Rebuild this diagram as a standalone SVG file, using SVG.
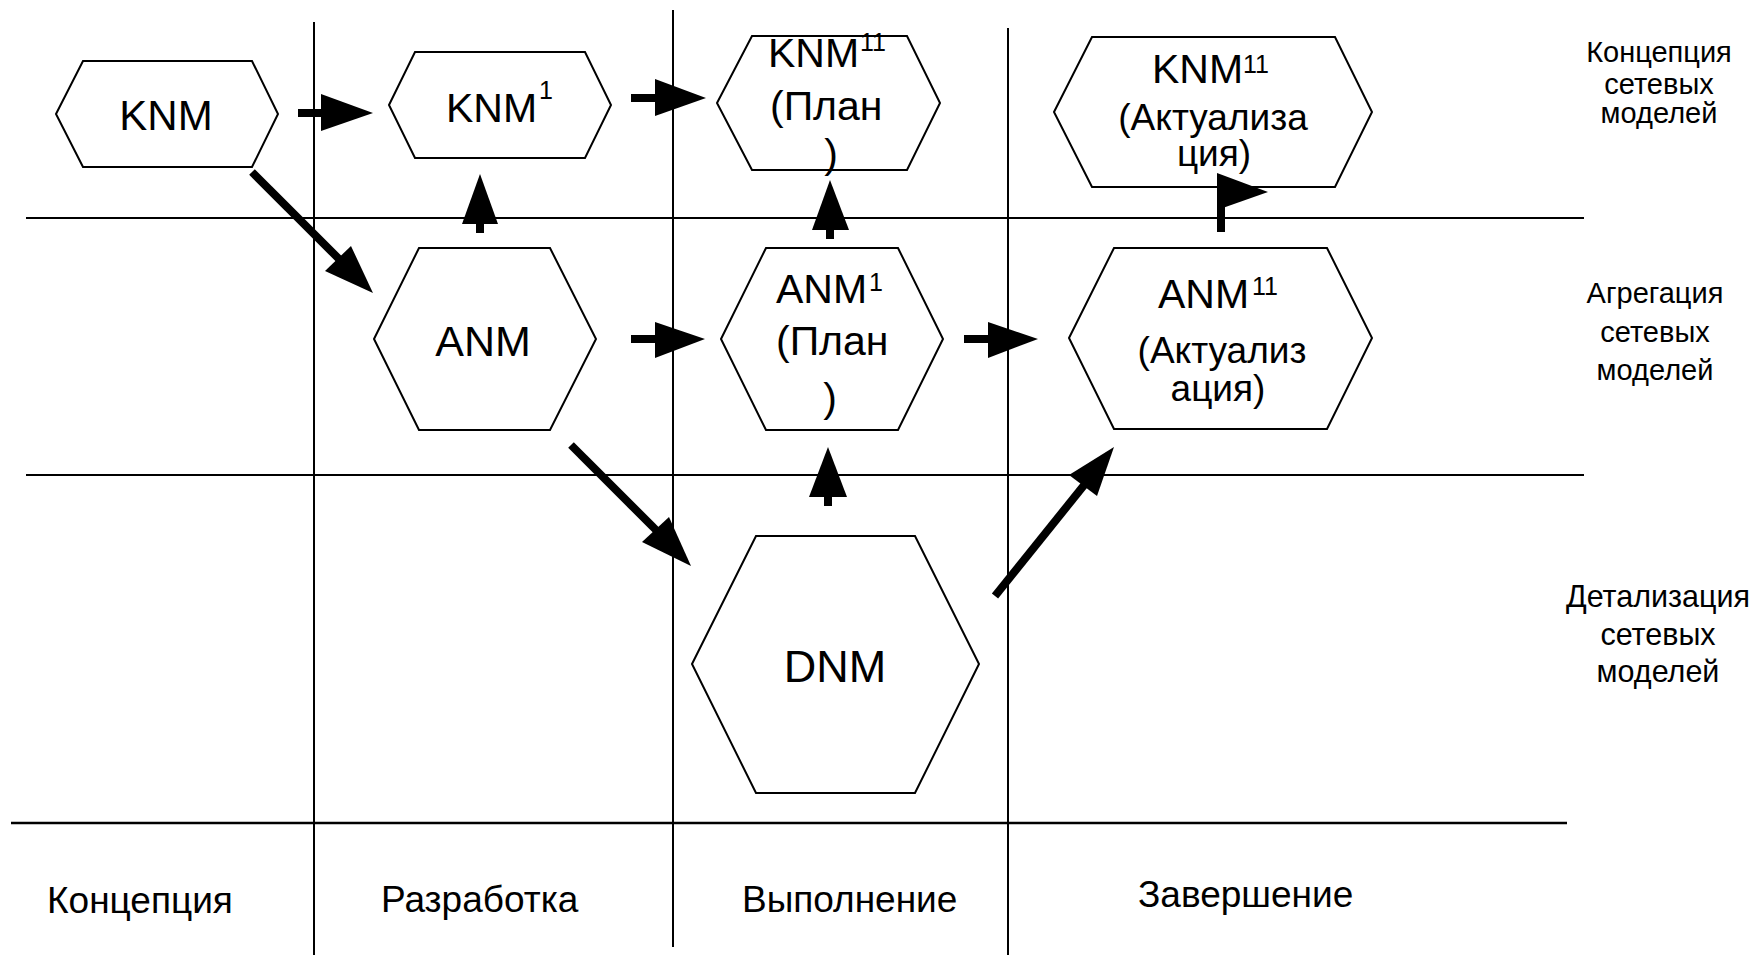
<svg xmlns="http://www.w3.org/2000/svg" width="1758" height="957" viewBox="0 0 1758 957">
<style>
.grid{stroke:#000;stroke-width:2;fill:none}
.hex{fill:#fff;stroke:#000;stroke-width:2}
.shaft{stroke:#000;stroke-width:8;fill:none}
.head{fill:#000;stroke:none}
.t{font-family:"Liberation Sans",Arial,sans-serif;fill:#000}
.n{font-size:41px}
.a{font-size:37px}
.s{font-size:25px}
.lab{font-size:29px;text-anchor:middle}
.ph{font-size:37px}
</style>
<rect width="1758" height="957" fill="#fff"/>
<g id="grid">
<line class="grid" x1="314" y1="22" x2="314" y2="955"/>
<line class="grid" x1="673" y1="10" x2="673" y2="947"/>
<line class="grid" x1="1008" y1="28" x2="1008" y2="955"/>
<line class="grid" x1="26" y1="218" x2="1584" y2="218"/>
<line class="grid" x1="26" y1="475" x2="1584" y2="475"/>
<line class="grid" x1="11" y1="823" x2="1567" y2="823" style="stroke-width:2.5"/>
</g>
<g id="row-labels" class="t lab">
<text x="1659" y="62">Концепция</text>
<text x="1659" y="94">сетевых</text>
<text x="1659" y="123">моделей</text>
<text x="1655" y="303">Агрегация</text>
<text x="1655" y="342">сетевых</text>
<text x="1655" y="380">моделей</text>
<text x="1658" y="607" style="font-size:30.5px">Детализация</text>
<text x="1658" y="645" style="font-size:30.5px">сетевых</text>
<text x="1658" y="682" style="font-size:30.5px">моделей</text>
</g>
<g id="phase-labels" class="t ph">
<text x="47" y="913">Концепция</text>
<text x="381" y="912">Разработка</text>
<text x="742" y="912">Выполнение</text>
<text x="1138" y="907">Завершение</text>
</g>
<g id="node-knm">
<polygon class="hex" points="56,114 83,61 252,61 278,114 252,167 83,167"/>
<text class="t n" x="166" y="130" text-anchor="middle" style="font-size:42px">KNM</text>
</g>
<g id="node-knm1">
<polygon class="hex" points="389,105 415,52 585,52 611,105 585,158 415,158"/>
<text class="t n" x="446" y="122">KNM</text>
<text class="t s" x="539" y="99">1</text>
</g>
<g id="node-knm11-plan">
<polygon class="hex" points="717,103 752,36 907,36 940,103 907,170 752,170"/>
<text class="t n" x="768" y="67">KNM</text>
<text class="t s" x="860" y="51">11</text>
<text class="t n" x="770" y="120">(План</text>
<text class="t n" x="831" y="168" text-anchor="middle">)</text>
</g>
<g id="node-knm11-akt">
<polygon class="hex" points="1054,112 1092,37 1335,37 1372,112 1335,187 1092,187"/>
<text class="t n" x="1152" y="83">KNM</text>
<text class="t s" x="1243" y="73">11</text>
<text class="t a" x="1213" y="130" text-anchor="middle">(Актуализа</text>
<text class="t a" x="1214" y="166" text-anchor="middle">ция)</text>
</g>
<g id="node-anm">
<polygon class="hex" points="374,339 419,248 550,248 596,339 550,430 419,430"/>
<text class="t n" x="483" y="356" text-anchor="middle" style="font-size:43px">ANM</text>
</g>
<g id="node-anm1-plan">
<polygon class="hex" points="721,339 766,248 898,248 943,339 898,430 766,430"/>
<text class="t n" x="776" y="303">ANM</text>
<text class="t s" x="869" y="291">1</text>
<text class="t n" x="776" y="355">(План</text>
<text class="t n" x="830" y="412" text-anchor="middle">)</text>
</g>
<g id="node-anm11-akt">
<polygon class="hex" points="1069,338 1114,248 1327,248 1372,338 1327,429 1114,429"/>
<text class="t n" x="1158" y="308">ANM</text>
<text class="t s" x="1252" y="295">11</text>
<text class="t a" x="1222" y="363" text-anchor="middle">(Актуализ</text>
<text class="t a" x="1218" y="401" text-anchor="middle">ация)</text>
</g>
<g id="node-dnm">
<polygon class="hex" points="692,664 756,536 915,536 979,664 915,793 756,793"/>
<text class="t n" x="835" y="682" text-anchor="middle" style="font-size:45px">DNM</text>
</g>
<g id="connectors">
<line class="shaft" x1="298" y1="113" x2="323" y2="113"/>
<polygon class="head" points="321,94 373,113 321,131"/>
<line class="shaft" x1="631" y1="98" x2="657" y2="98"/>
<polygon class="head" points="655,79 706,98 655,116"/>
<line class="shaft" x1="252" y1="172" x2="340" y2="260"/>
<polygon class="head" points="325,271 373,293 351,246"/>
<line class="shaft" x1="480" y1="233" x2="480" y2="222"/>
<polygon class="head" points="462,224 480,174 498,224"/>
<line class="shaft" x1="631" y1="339" x2="657" y2="339"/>
<polygon class="head" points="655,322 705,339 655,358"/>
<line class="shaft" x1="830" y1="239" x2="830" y2="228"/>
<polygon class="head" points="812,230 830,180 849,230"/>
<line class="shaft" x1="964" y1="339" x2="990" y2="339"/>
<polygon class="head" points="988,322 1038,339 988,358"/>
<line class="shaft" x1="571" y1="445" x2="657" y2="531"/>
<polygon class="head" points="642,542 691,566 669,517"/>
<line class="shaft" x1="828" y1="506" x2="828" y2="495"/>
<polygon class="head" points="809,497 828,447 847,497"/>
<line class="shaft" x1="995" y1="596" x2="1085" y2="484"/>
<polygon class="head" points="1069,475 1114,447 1097,496"/>
<line class="shaft" x1="1221" y1="232" x2="1221" y2="205"/>
<polygon class="head" points="1217,173 1268,192 1217,210"/>
</g>
</svg>
